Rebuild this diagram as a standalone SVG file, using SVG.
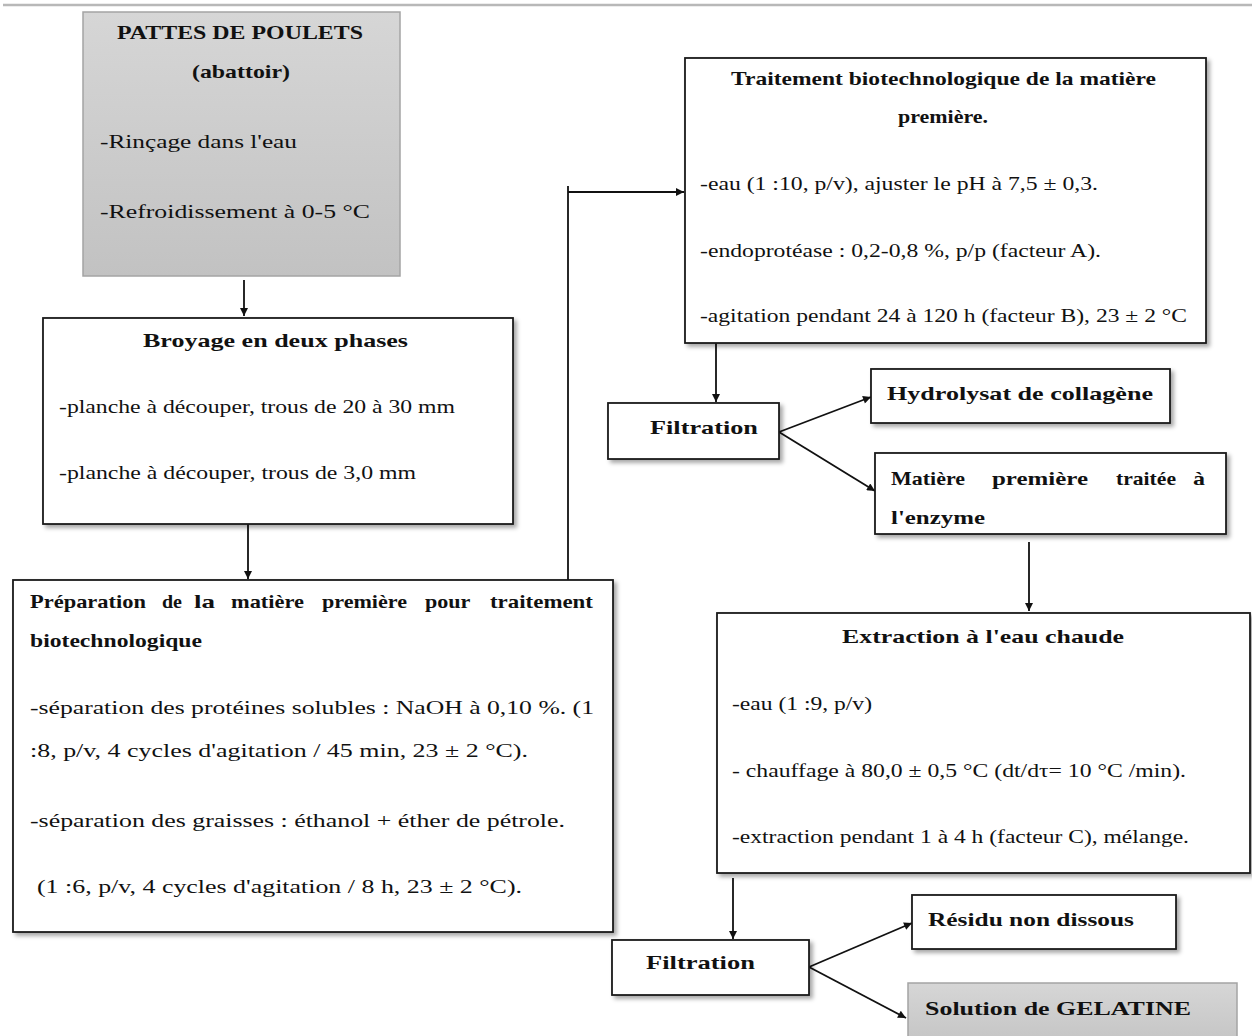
<svg xmlns="http://www.w3.org/2000/svg" width="1252" height="1036" viewBox="0 0 1252 1036">
  <style>
    .box { fill: #ffffff; stroke: #1a1a1a; stroke-width: 1.8; filter: url(#shadow); }
    .grey { fill: url(#greyFill); stroke: #a4a4a4; stroke-width: 1.5; }
    .hd { font-family: "Liberation Serif", "Times New Roman", serif; font-weight: bold; font-size: 19px; fill: #111; }
    .tx { font-family: "Liberation Serif", "Times New Roman", serif; font-size: 19px; fill: #111; }
    .sm { font-family: "Liberation Serif", "Times New Roman", serif; font-size: 18px; fill: #111; }
    .link { fill: none; stroke: #111; stroke-width: 1.8; }
    .arr { marker-end: url(#head); }
  </style>
  <defs>
    <linearGradient id="greyFill" x1="0" y1="0" x2="0" y2="1">
      <stop offset="0" stop-color="#d6d6d6"/>
      <stop offset="1" stop-color="#c2c2c2"/>
    </linearGradient>
    <filter id="shadow" x="-5%" y="-5%" width="115%" height="120%">
      <feDropShadow dx="3" dy="3" stdDeviation="2" flood-color="#000" flood-opacity="0.35"/>
    </filter>
    <marker id="head" viewBox="0 0 10 10" refX="10" refY="5" markerWidth="9" markerHeight="8" markerUnits="userSpaceOnUse" orient="auto">
      <path d="M0,0 L10,5 L0,10 z" fill="#111"/>
    </marker>
  </defs>

  <rect width="1252" height="1036" fill="#ffffff"/>
  <!-- page rule -->
  <line x1="3" y1="5" x2="1252" y2="5" stroke="#b8b8b8" stroke-width="2.5"/>

  <!-- connectors -->
  <g id="connectors">
    <path class="link arr" d="M244,280 V316"/>
    <path class="link arr" d="M248,524 V579"/>
    <path class="link" d="M568,580 V186"/>
    <path class="link arr" d="M568,192 H684"/>
    <path class="link arr" d="M716,343 V402"/>
    <path class="link arr" d="M779,432 L871,397"/>
    <path class="link arr" d="M779,432 L875,491"/>
    <path class="link arr" d="M1029,542 V611"/>
    <path class="link arr" d="M733,878 V939"/>
    <path class="link arr" d="M809,967 L912,923"/>
    <path class="link arr" d="M809,967 L906,1018"/>
  </g>

  <g id="pattes">
    <rect class="grey" x="83" y="12" width="317" height="264"/>
    <text class="hd" x="117" y="39" textLength="246" lengthAdjust="spacingAndGlyphs">PATTES DE POULETS</text>
    <text class="hd" x="192" y="78" textLength="98" lengthAdjust="spacingAndGlyphs">(abattoir)</text>
    <text class="tx" x="100" y="148" textLength="197" lengthAdjust="spacingAndGlyphs">-Rinçage dans l'eau</text>
    <text class="tx" x="100" y="218" textLength="270" lengthAdjust="spacingAndGlyphs">-Refroidissement à 0-5 °C</text>
  </g>

  <g id="broyage">
    <rect class="box" x="43" y="318" width="470" height="206"/>
    <text class="hd" x="143" y="347" textLength="265" lengthAdjust="spacingAndGlyphs">Broyage en deux phases</text>
    <text class="sm" x="59" y="413" textLength="396" lengthAdjust="spacingAndGlyphs">-planche à découper, trous de 20 à 30 mm</text>
    <text class="sm" x="59" y="479" textLength="357" lengthAdjust="spacingAndGlyphs">-planche à découper, trous de 3,0 mm</text>
  </g>

  <g id="preparation">
    <rect class="box" x="13" y="580" width="600" height="352"/>
    <!-- justified heading: one tspan per word -->
    <text class="hd" y="608">
      <tspan x="30" textLength="116" lengthAdjust="spacingAndGlyphs">Préparation</tspan>
      <tspan x="162" textLength="20" lengthAdjust="spacingAndGlyphs">de</tspan>
      <tspan x="194" textLength="21" lengthAdjust="spacingAndGlyphs">la</tspan>
      <tspan x="231" textLength="73" lengthAdjust="spacingAndGlyphs">matière</tspan>
      <tspan x="322" textLength="85" lengthAdjust="spacingAndGlyphs">première</tspan>
      <tspan x="425" textLength="45" lengthAdjust="spacingAndGlyphs">pour</tspan>
      <tspan x="490" textLength="103" lengthAdjust="spacingAndGlyphs">traitement</tspan>
    </text>
    <text class="hd" x="30" y="647" textLength="172" lengthAdjust="spacingAndGlyphs">biotechnologique</text>
    <text class="tx" x="30" y="714" textLength="564" lengthAdjust="spacingAndGlyphs">-séparation des protéines solubles : NaOH à 0,10 %. (1</text>
    <text class="tx" x="30" y="757" textLength="498" lengthAdjust="spacingAndGlyphs">:8, p/v, 4 cycles d'agitation / 45 min, 23 ± 2 °C).</text>
    <text class="tx" x="30" y="827" textLength="535" lengthAdjust="spacingAndGlyphs">-séparation des graisses : éthanol + éther de pétrole.</text>
    <text class="tx" x="37" y="893" textLength="485" lengthAdjust="spacingAndGlyphs">(1 :6, p/v, 4 cycles d'agitation / 8 h, 23 ± 2 °C).</text>
  </g>

  <g id="traitement">
    <rect class="box" x="685" y="58" width="521" height="285"/>
    <text class="hd" x="731" y="85" textLength="425" lengthAdjust="spacingAndGlyphs">Traitement  biotechnologique de la matière</text>
    <text class="hd" x="898" y="123" textLength="90" lengthAdjust="spacingAndGlyphs">première.</text>
    <text class="sm" x="700" y="190" textLength="398" lengthAdjust="spacingAndGlyphs">-eau (1 :10, p/v), ajuster le pH à 7,5 ± 0,3.</text>
    <text class="sm" x="700" y="257" textLength="401" lengthAdjust="spacingAndGlyphs">-endoprotéase : 0,2-0,8 %, p/p (facteur A).</text>
    <text class="sm" x="700" y="322" textLength="487" lengthAdjust="spacingAndGlyphs">-agitation pendant 24 à 120 h (facteur B), 23 ± 2 °C</text>
  </g>

  <g id="filtration1">
    <rect class="box" x="608" y="403" width="171" height="56"/>
    <text class="hd" x="650" y="434" textLength="108" lengthAdjust="spacingAndGlyphs">Filtration</text>
  </g>

  <g id="hydrolysat">
    <rect class="box" x="871" y="369" width="299" height="54"/>
    <text class="hd" x="887" y="400" textLength="266" lengthAdjust="spacingAndGlyphs">Hydrolysat de collagène</text>
  </g>

  <g id="matiere-traitee">
    <rect class="box" x="875" y="453" width="351" height="81"/>
    <text class="hd" y="485">
      <tspan x="891" textLength="74" lengthAdjust="spacingAndGlyphs">Matière</tspan>
      <tspan x="992" textLength="96" lengthAdjust="spacingAndGlyphs">première</tspan>
      <tspan x="1116" textLength="60" lengthAdjust="spacingAndGlyphs">traitée</tspan>
      <tspan x="1193" textLength="12" lengthAdjust="spacingAndGlyphs">à</tspan>
    </text>
    <text class="hd" x="891" y="524" textLength="94" lengthAdjust="spacingAndGlyphs">l'enzyme</text>
  </g>

  <g id="extraction">
    <rect class="box" x="717" y="613" width="533" height="260"/>
    <text class="hd" x="842" y="643" textLength="282" lengthAdjust="spacingAndGlyphs">Extraction à l'eau chaude</text>
    <text class="sm" x="732" y="710" textLength="140" lengthAdjust="spacingAndGlyphs">-eau (1 :9, p/v)</text>
    <text class="sm" x="732" y="777" textLength="454" lengthAdjust="spacingAndGlyphs">- chauffage à 80,0 ± 0,5 °C (dt/dτ= 10 °C /min).</text>
    <text class="sm" x="732" y="843" textLength="457" lengthAdjust="spacingAndGlyphs">-extraction pendant 1 à 4 h (facteur C), mélange.</text>
  </g>

  <g id="filtration2">
    <rect class="box" x="612" y="940" width="197" height="55"/>
    <text class="hd" x="646" y="969" textLength="109" lengthAdjust="spacingAndGlyphs">Filtration</text>
  </g>

  <g id="residu">
    <rect class="box" x="912" y="895" width="264" height="54"/>
    <text class="hd" x="928" y="926" textLength="206" lengthAdjust="spacingAndGlyphs">Résidu non dissous</text>
  </g>

  <g id="solution">
    <rect class="grey" x="908" y="983" width="329" height="70"/>
    <text class="hd" x="925" y="1015" textLength="266" lengthAdjust="spacingAndGlyphs">Solution de GELATINE</text>
  </g>
</svg>
